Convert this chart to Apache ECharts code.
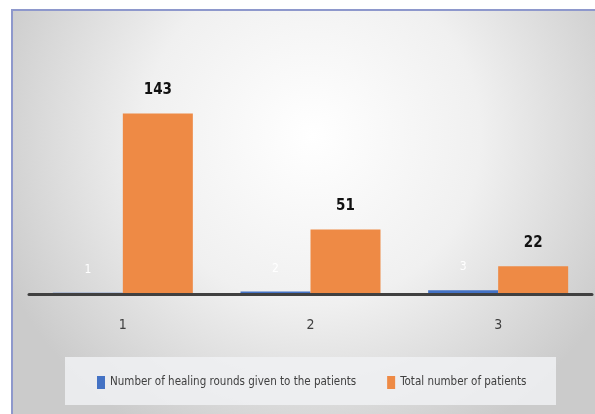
<!DOCTYPE html>
<html>
<head>
<meta charset="utf-8">
<script src="https://cdn.jsdelivr.net/npm/echarts@6/dist/echarts.min.js"></script>
<style>
  html, body { margin: 0; padding: 0; background: #fff; }
  #chart { width: 595px; height: 414px; }
</style>
</head>
<body>
<div id="chart"></div>
<script>
// 数据
var categories = ["1", "2", "3"];
var roundsName = "Number of healing rounds given to the patients";
var patientsName = "Total number of patients";
var roundsData = [1, 2, 3];
var patientsData = [143, 51, 22];

var narrowFont = "'Liberation Sans Narrow', 'DejaVu Sans Condensed', sans-serif";

var chart = echarts.init(document.getElementById("chart"));

var option = {
  animation: false,
  backgroundColor: "#ffffff",
  graphic: [
    {
      // chart area with grey radial shade
      type: "rect",
      z: -10,
      shape: { x: 12, y: 10, width: 600, height: 420 },
      style: {
        fill: new echarts.graphic.RadialGradient(0.5, 0.3, 0.8, [
          { offset: 0, color: "#ffffff" },
          { offset: 0.5, color: "#f0f0f0" },
          { offset: 1, color: "#cbcbcb" }
        ]),
        stroke: "#8e98cc",
        lineWidth: 2
      }
    },
    {
      // legend box
      type: "rect",
      z: -9,
      shape: { x: 65, y: 357, width: 491, height: 48 },
      style: { fill: "rgba(240,241,243,0.85)" }
    }
  ],
  grid: {
    left: 29,
    right: 3,
    top: 92,
    bottom: 120
  },
  legend: {
    left: 92,
    top: 371,
    width: 480,
    icon: "rect",
    itemWidth: 8,
    itemHeight: 13,
    itemGap: 31,
    textStyle: {
      color: "#404040",
      fontSize: 11.5,
      fontFamily: narrowFont
    },
    data: [roundsName, patientsName]
  },
  xAxis: {
    type: "category",
    data: categories,
    z: 5,
    axisLine: {
      lineStyle: { color: "#404040", width: 3 }
    },
    axisTick: { show: false },
    axisLabel: {
      margin: 24,
      color: "#404040",
      fontSize: 14,
      fontFamily: narrowFont
    }
  },
  yAxis: {
    type: "value",
    min: 0,
    max: 160,
    show: false,
    splitLine: { show: false }
  },
  series: [
    {
      name: roundsName,
      type: "bar",
      barWidth: 70,
      barGap: "0%",
      itemStyle: { color: "#4472C4" },
      label: {
        show: true,
        position: "top",
        distance: 17,
        color: "#ffffff",
        fontSize: 12,
        fontFamily: narrowFont
      },
      data: roundsData
    },
    {
      name: patientsName,
      type: "bar",
      barWidth: 70,
      itemStyle: { color: "#EE8A45" },
      label: {
        show: true,
        position: "top",
        distance: 16,
        color: "#111111",
        fontSize: 15,
        fontWeight: "bold",
        fontFamily: narrowFont
      },
      data: patientsData
    }
  ]
};

chart.setOption(option);
</script>
</body>
</html>
